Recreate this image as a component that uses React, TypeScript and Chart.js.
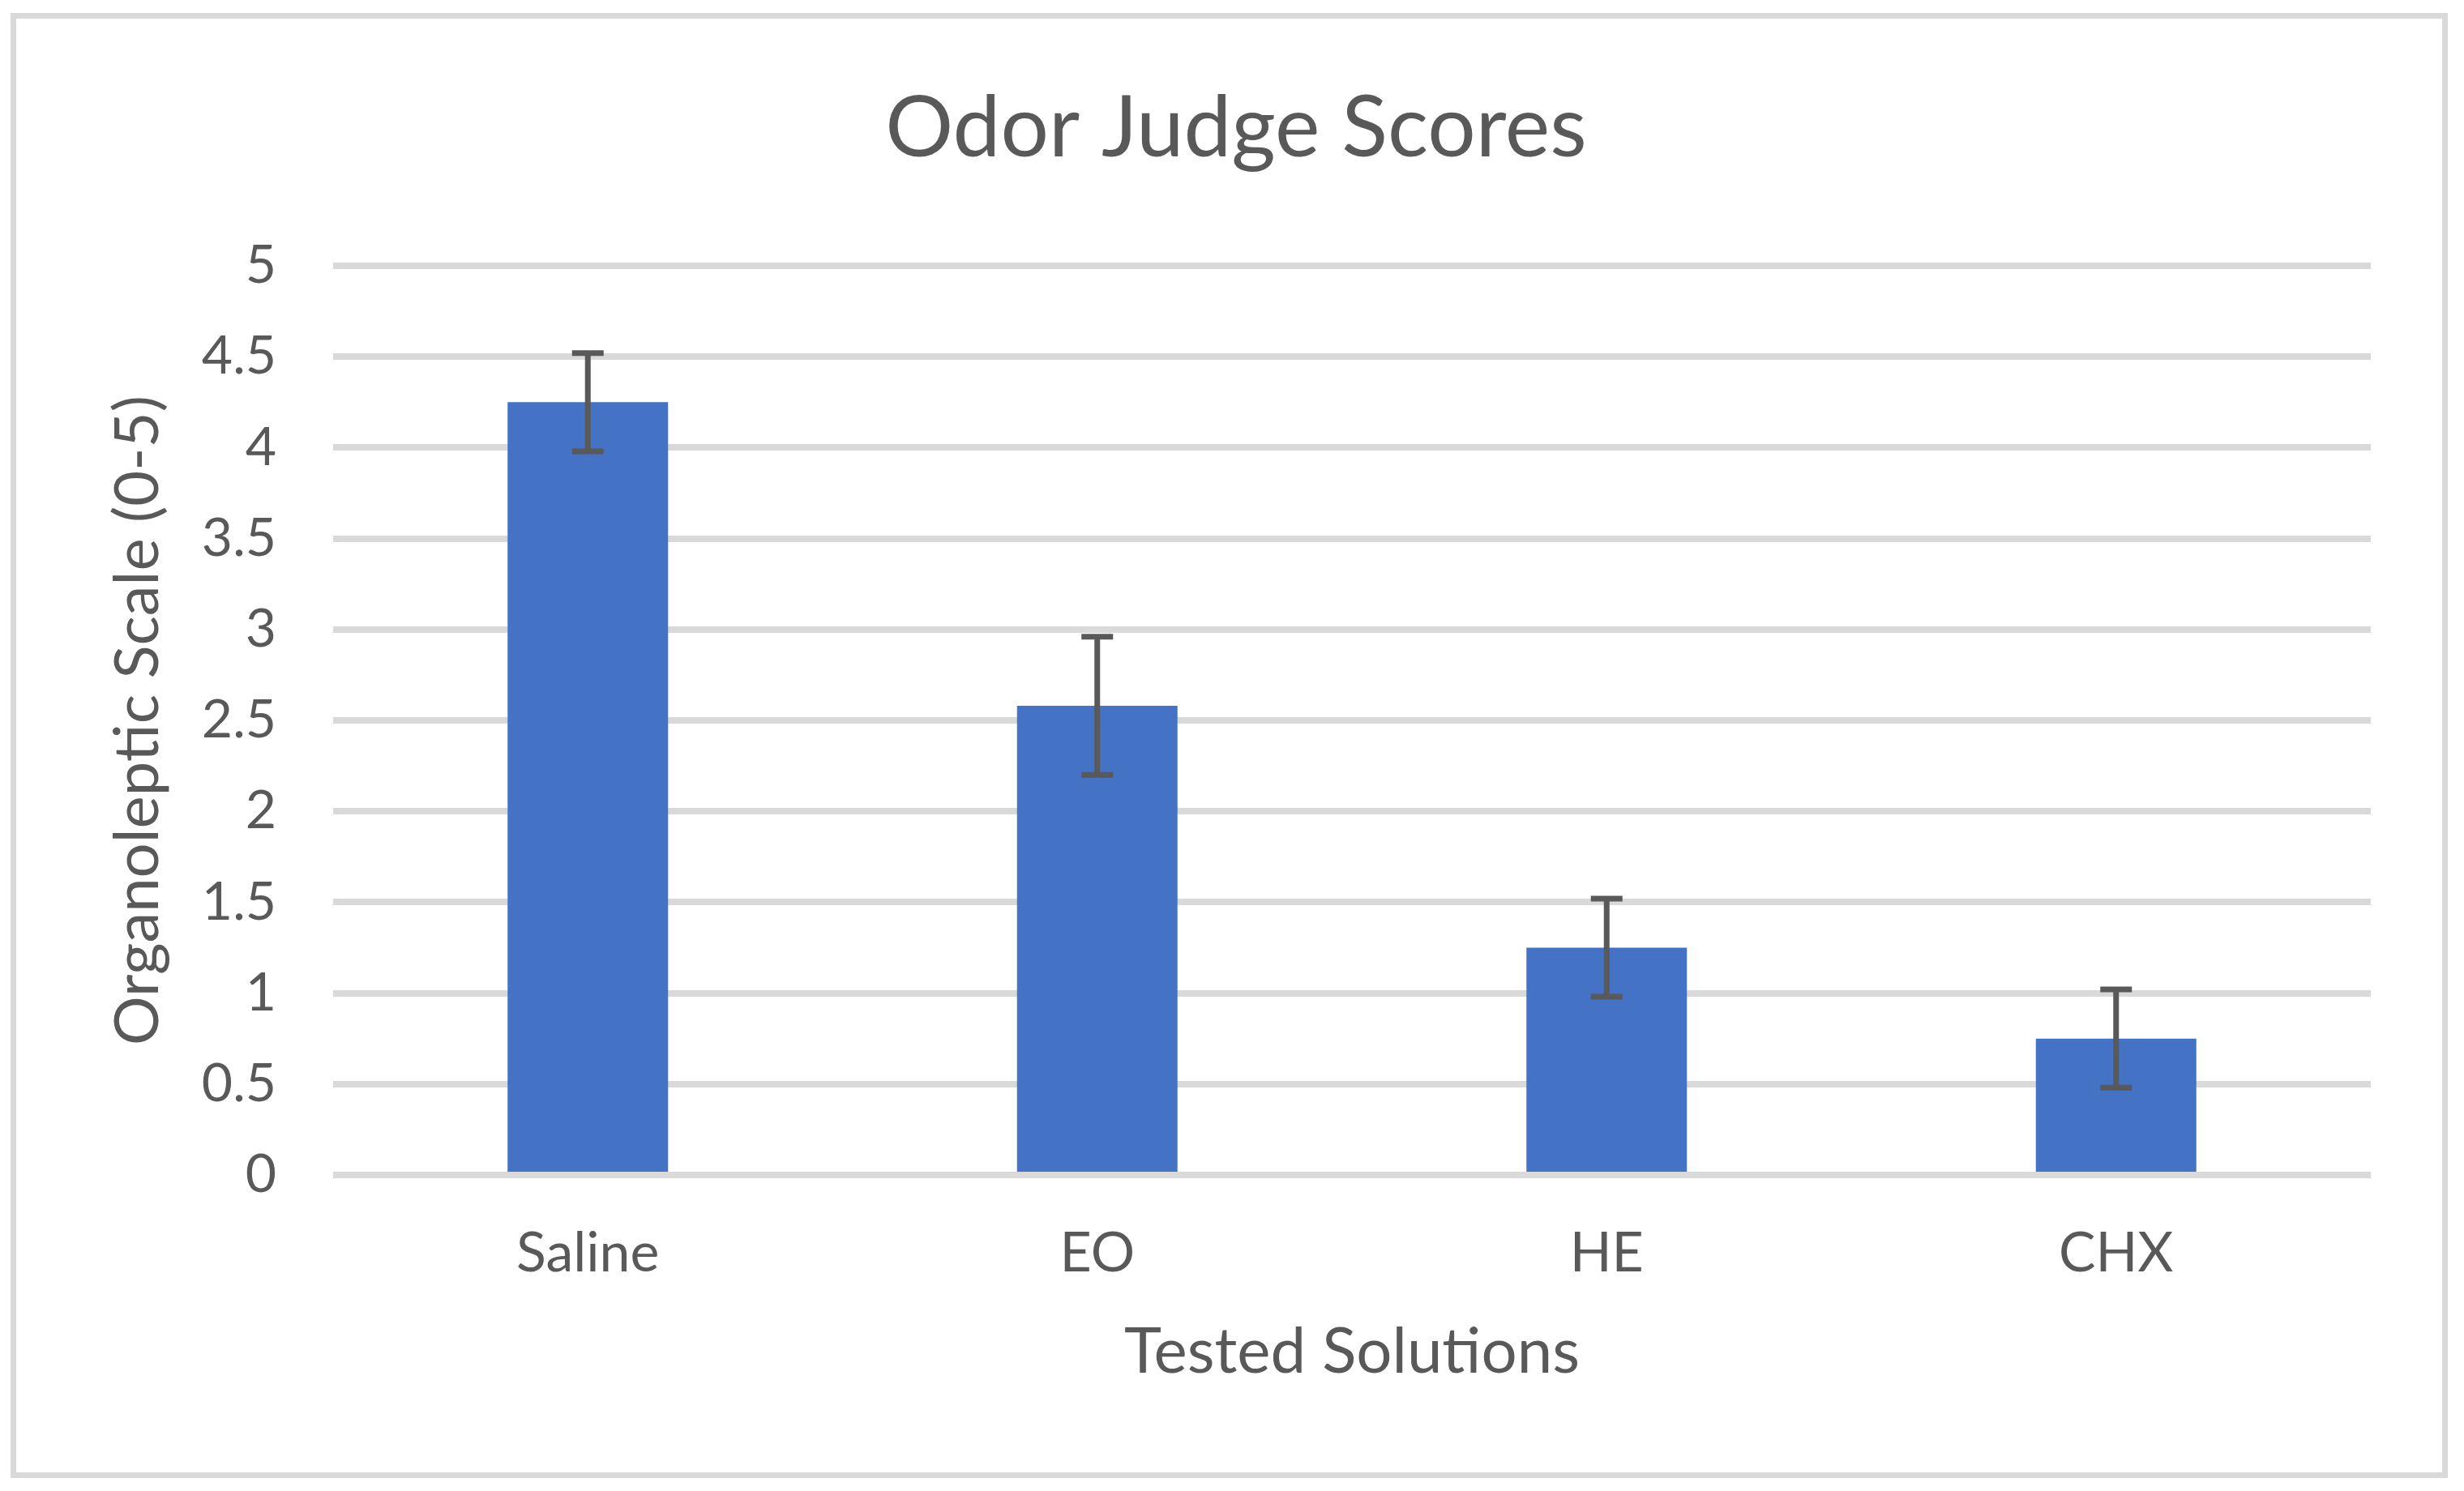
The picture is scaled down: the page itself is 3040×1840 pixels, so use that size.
import React, { useEffect, useRef } from "react";
import { Chart, registerables } from "chart.js";

Chart.register(...registerables);

const categories = ["Saline", "EO", "HE", "CHX"];
const meanScores = [4.25, 2.58, 1.25, 0.75];
const errorValues = [0.27, 0.38, 0.27, 0.27];
const yTickValues = [0, 0.5, 1, 1.5, 2, 2.5, 3, 3.5, 4, 4.5, 5];
const yTickLabels = ["0", "0.5", "1", "1.5", "2", "2.5", "3", "3.5", "4", "4.5", "5"];

const TEXT = "#595959";
const GRID = "#D9D9D9";
const BAR = "#4472C4";
const FONT = "Lato";

const W = 3040;
const H = 1840;

const backgroundAndBorder = {
  id: "bgBorder",
  beforeDraw(chart: any) {
    const ctx = chart.ctx;
    ctx.save();
    ctx.fillStyle = "#ffffff";
    ctx.fillRect(0, 0, chart.width, chart.height);
    ctx.strokeStyle = GRID;
    ctx.lineWidth = 7;
    ctx.strokeRect(16.5, 19.5, 3000, 1801);
    ctx.restore();
  },
};

const errorBars = {
  id: "errorBars",
  afterDatasetsDraw(chart: any) {
    const ctx = chart.ctx;
    const meta = chart.getDatasetMeta(0);
    const y = chart.scales.y;
    ctx.save();
    ctx.strokeStyle = TEXT;
    ctx.lineWidth = 7;
    ctx.lineCap = "butt";
    meta.data.forEach((bar: any, i: number) => {
      const v = meanScores[i];
      const e = errorValues[i];
      const x = bar.x;
      const yTop = y.getPixelForValue(v + e);
      const yBot = y.getPixelForValue(v - e);
      const half = 19.5;
      ctx.beginPath();
      ctx.moveTo(x, yTop);
      ctx.lineTo(x, yBot);
      ctx.moveTo(x - half, yTop);
      ctx.lineTo(x + half, yTop);
      ctx.moveTo(x - half, yBot);
      ctx.lineTo(x + half, yBot);
      ctx.stroke();
    });
    ctx.restore();
  },
};

export default function App() {
  const canvasRef = useRef<HTMLCanvasElement | null>(null);

  useEffect(() => {
    const canvas = canvasRef.current;
    if (!canvas) return;
    const chart = new Chart(canvas, {
      type: "bar",
      data: {
        labels: categories,
        datasets: [
          {
            label: "Odor Judge Scores",
            data: meanScores,
            backgroundColor: BAR,
            borderWidth: 0,
            barPercentage: 0.315,
            categoryPercentage: 1,
          },
        ],
      },
      options: {
        responsive: false,
        animation: false,
        devicePixelRatio: 1,
        layout: {
          padding: { left: 125, right: 115, top: 20, bottom: 124 },
        },
        plugins: {
          legend: { display: false },
          tooltip: { enabled: false },
          title: {
            display: true,
            text: "Odor Judge Scores",
            color: TEXT,
            font: { family: FONT, size: 105, weight: "normal" },
            padding: { top: 76, bottom: 106 },
          },
        },
        scales: {
          x: {
            grid: { display: false, drawTicks: false },
            border: { display: false },
            ticks: {
              color: TEXT,
              font: { family: FONT, size: 68 },
              padding: 56,
              maxRotation: 0,
            },
            title: {
              display: true,
              text: "Tested Solutions",
              color: TEXT,
              font: { family: FONT, size: 78 },
              padding: 0,
            },
            afterFit: (s: any) => {
              s.height = 266;
            },
          },
          y: {
            min: 0,
            max: 5,
            grid: { color: GRID, lineWidth: 8, drawTicks: false },
            border: { display: false },
            afterBuildTicks: (s: any) => {
              s.ticks = yTickValues.map((v) => ({ value: v }));
            },
            ticks: {
              color: TEXT,
              font: { family: FONT, size: 66 },
              padding: 70,
              callback: (_v: any, i: number) => yTickLabels[i],
            },
            title: {
              display: true,
              text: "Organoleptic Scale (0-5)",
              color: TEXT,
              font: { family: FONT, size: 76 },
              padding: 0,
            },
            afterFit: (s: any) => {
              s.width = 411 - 125;
            },
          },
        },
      },
      plugins: [backgroundAndBorder, errorBars],
    });
    return () => chart.destroy();
  }, []);

  return (
    <div style={{ position: "absolute", left: 0, top: 0, width: W, height: H, background: "#fff" }}>
      <canvas ref={canvasRef} width={W} height={H} style={{ width: W, height: H, display: "block" }} />
    </div>
  );
}
